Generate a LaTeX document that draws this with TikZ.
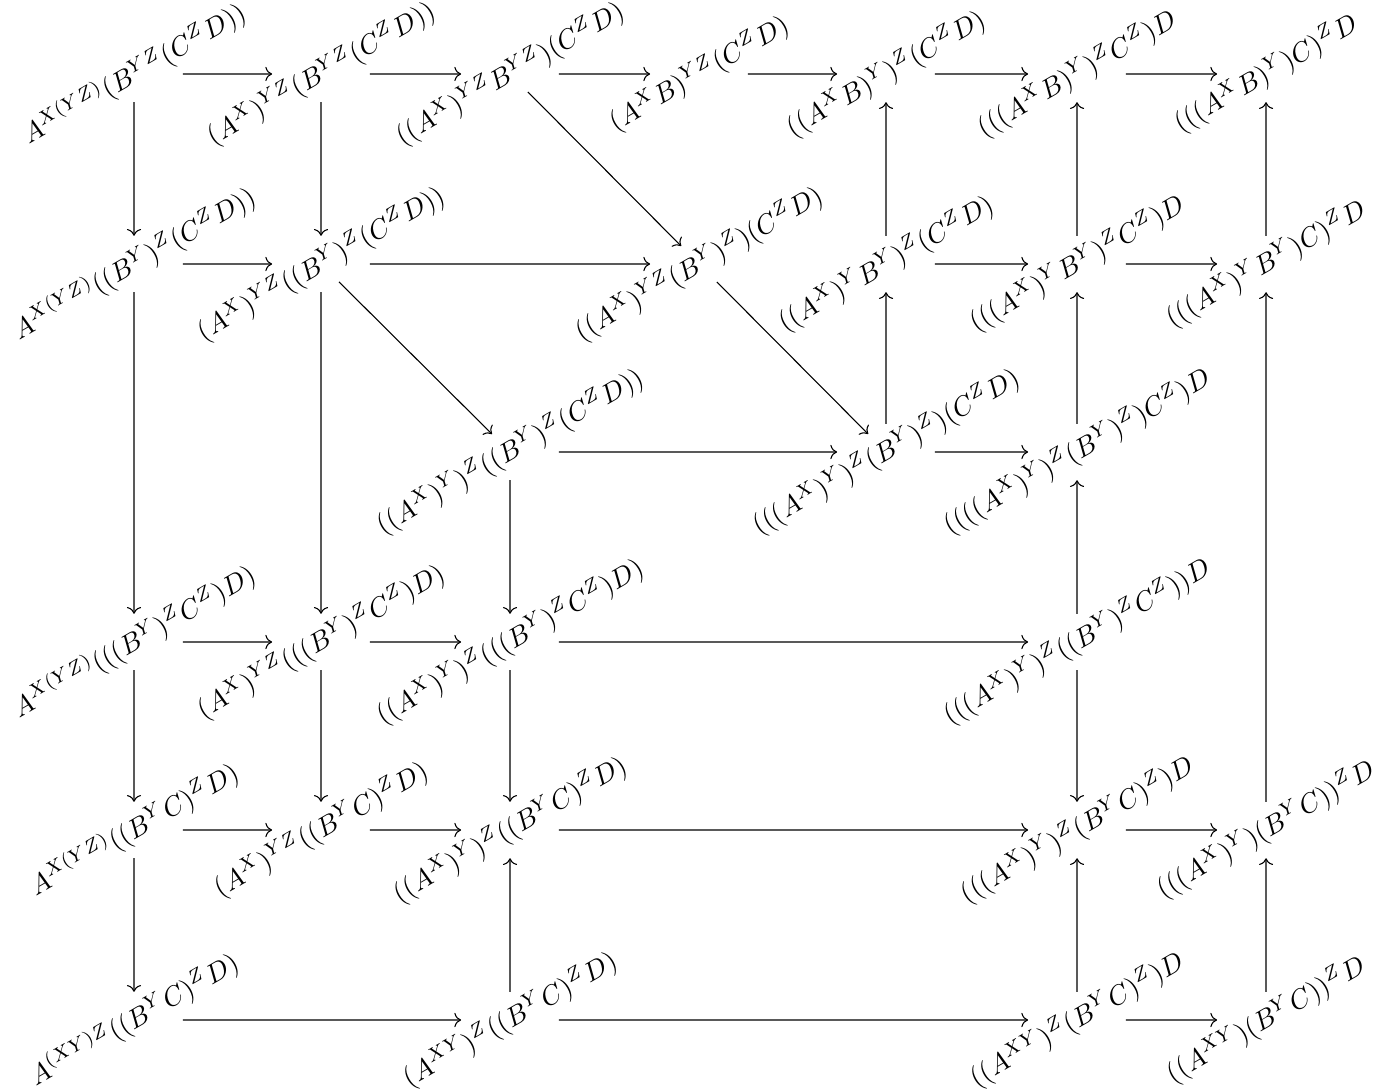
\documentclass[tikz,border=0pt]{standalone}
\usetikzlibrary{arrows.meta}
\begin{document}
\begin{tikzpicture}[x=0.368pt,y=-0.368pt,
  cd/.style={rotate=30, inner sep=0pt, outer sep=0pt, minimum height=18pt, anchor=center},
  ar/.style={-{Computer Modern Rightarrow}, line width=0.4pt}]
\useasboundingbox (0,0) rectangle (1375,1091);
% grid: x = 132 + 189(c-1), y = 72 + 189.6(r-1)
\node[cd] (n11) at (134,74)  {$A^{X(YZ)}(B^{YZ}(C^Z D))$};
\node[cd] (n12) at (321,74)  {$(A^X)^{YZ}(B^{YZ}(C^Z D))$};
\node[cd] (n13) at (510,74)  {$((A^X)^{YZ}B^{YZ})(C^Z D)$};
\node[cd] (n14) at (699,74)  {$(A^X B)^{YZ}(C^Z D)$};
\node[cd] (n15) at (886,74)  {$((A^X B)^Y)^Z(C^Z D)$};
\node[cd] (n16) at (1077,74) {$(((A^X B)^Y)^Z C^Z)D$};
\node[cd] (n17) at (1266,74) {$(((A^X B)^Y)C)^Z D$};
%
\node[cd] (n21) at (134,264)  {$A^{X(YZ)}((B^Y)^Z(C^Z D))$};
\node[cd] (n22) at (321,264)  {$(A^X)^{YZ}((B^Y)^Z(C^Z D))$};
\node[cd] (n24) at (699,264)  {$((A^X)^{YZ}(B^Y)^Z)(C^Z D)$};
\node[cd] (n25) at (886,264)  {$((A^X)^Y B^Y)^Z(C^Z D)$};
\node[cd] (n26) at (1077,264) {$(((A^X)^Y B^Y)^Z C^Z)D$};
\node[cd] (n27) at (1266,264) {$(((A^X)^Y B^Y)C)^Z D$};
%
\node[cd] (n33) at (510,452)  {$((A^X)^Y)^Z((B^Y)^Z(C^Z D))$};
\node[cd] (n35) at (886,452)  {$(((A^X)^Y)^Z(B^Y)^Z)(C^Z D)$};
\node[cd] (n36) at (1077,452) {$((((A^X)^Y)^Z(B^Y)^Z)C^Z)D$};
%
\node[cd] (n41) at (134,642)  {$A^{X(YZ)}(((B^Y)^Z C^Z)D)$};
\node[cd] (n42) at (321,642)  {$(A^X)^{YZ}(((B^Y)^Z C^Z)D)$};
\node[cd] (n43) at (510,642)  {$((A^X)^Y)^Z(((B^Y)^Z C^Z)D)$};
\node[cd] (n46) at (1077,642) {$(((A^X)^Y)^Z((B^Y)^Z C^Z))D$};
%
\node[cd] (n51) at (134,830)  {$A^{X(YZ)}((B^Y C)^Z D)$};
\node[cd] (n52) at (321,830)  {$(A^X)^{YZ}((B^Y C)^Z D)$};
\node[cd] (n53) at (510,830)  {$((A^X)^Y)^Z((B^Y C)^Z D)$};
\node[cd] (n56) at (1077,830) {$(((A^X)^Y)^Z(B^Y C)^Z)D$};
\node[cd] (n57) at (1266,830) {$(((A^X)^Y)(B^Y C))^Z D$};
%
\node[cd] (n61) at (134,1020)  {$A^{(XY)Z}((B^Y C)^Z D)$};
\node[cd] (n63) at (510,1020)  {$(A^{XY})^Z((B^Y C)^Z D)$};
\node[cd] (n66) at (1077,1020) {$((A^{XY})^Z(B^Y C)^Z)D$};
\node[cd] (n67) at (1266,1020) {$((A^{XY})(B^Y C))^Z D$};
% horizontal
\draw[ar] (n11) -- (n12); \draw[ar] (n12) -- (n13); \draw[ar] (n13) -- (n14);
\draw[ar] (n14) -- (n15); \draw[ar] (n15) -- (n16); \draw[ar] (n16) -- (n17);
\draw[ar] (n21) -- (n22); \draw[ar] (n22) -- (n24); \draw[ar] (n25) -- (n26); \draw[ar] (n26) -- (n27);
\draw[ar] (n33) -- (n35); \draw[ar] (n35) -- (n36);
\draw[ar] (n41) -- (n42); \draw[ar] (n42) -- (n43); \draw[ar] (n43) -- (n46);
\draw[ar] (n51) -- (n52); \draw[ar] (n52) -- (n53); \draw[ar] (n53) -- (n56); \draw[ar] (n56) -- (n57);
\draw[ar] (n61) -- (n63); \draw[ar] (n63) -- (n66); \draw[ar] (n66) -- (n67);
% vertical
\draw[ar] (n11) -- (n21); \draw[ar] (n12) -- (n22);
\draw[ar] (n25) -- (n15); \draw[ar] (n26) -- (n16); \draw[ar] (n27) -- (n17);
\draw[ar] (n21) -- (n41); \draw[ar] (n22) -- (n42);
\draw[ar] (n35) -- (n25); \draw[ar] (n36) -- (n26);
\draw[ar] (n33) -- (n43); \draw[ar] (n46) -- (n36);
\draw[ar] (n41) -- (n51); \draw[ar] (n42) -- (n52); \draw[ar] (n43) -- (n53); \draw[ar] (n46) -- (n56);
\draw[ar] (n57) -- (n27);
\draw[ar] (n51) -- (n61); \draw[ar] (n63) -- (n53); \draw[ar] (n66) -- (n56); \draw[ar] (n67) -- (n57);
% diagonal
\draw[ar] (n13) -- (n24); \draw[ar] (n22) -- (n33); \draw[ar] (n24) -- (n35);
\end{tikzpicture}
\end{document}
